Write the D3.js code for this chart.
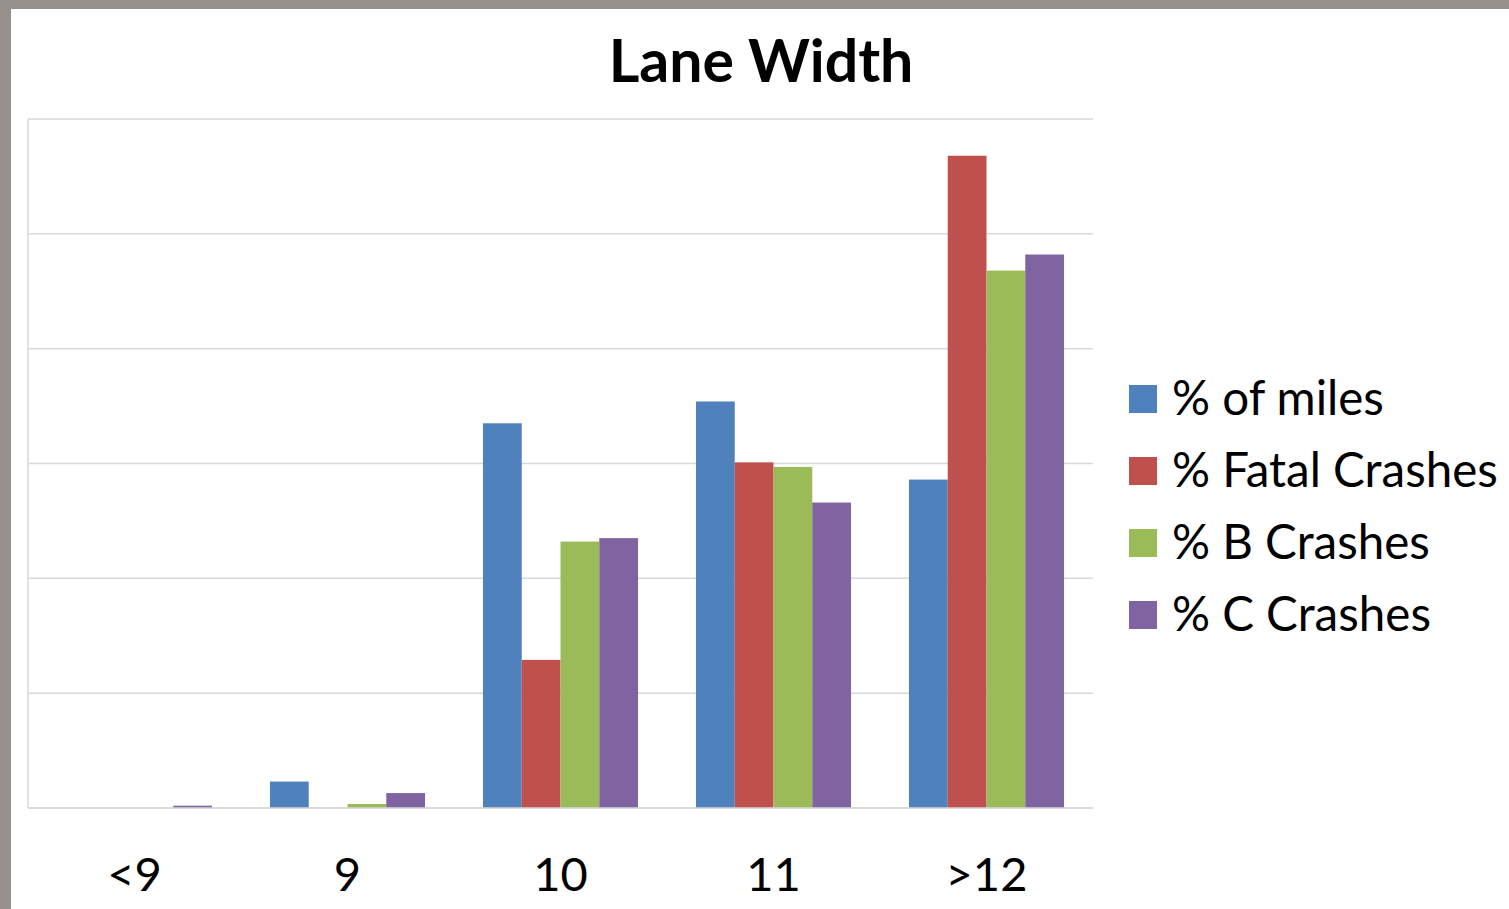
<!DOCTYPE html>
<html lang="en">
<head>
  <meta charset="UTF-8">
  <title>Lane Width</title>
  <script src="https://d3js.org/d3.v7.min.js"></script>
  <style>
    body { margin: 0; background: #96918c; }
    svg { display: block; }
  </style>
</head>
<body>
  <div id="chart"></div>

  <script>
    // Data
    const categories = ["<9", "9", "10", "11", ">12"];
    const seriesNames = ["% of miles", "% Fatal Crashes", "% B Crashes", "% C Crashes"];
    const seriesColors = ["#4f81bd", "#c0504d", "#9bbb59", "#8064a2"];
    const milesPct = [0, 2.3, 33.5, 35.4, 28.6];
    const fatalPct = [0, 0, 12.9, 30.1, 56.8];
    const bCrashPct = [0, 0.35, 23.2, 29.7, 46.8];
    const cCrashPct = [0.2, 1.3, 23.5, 26.6, 48.2];
    const yTicks = [0, 10, 20, 30, 40, 50, 60];

    const series = [milesPct, fatalPct, bCrashPct, cCrashPct];
    const rows = categories.map((c, i) => ({
      cat: c,
      values: series.map((s, j) => ({ key: seriesNames[j], value: s[i], color: seriesColors[j] }))
    }));

    const width = 1509, height = 909;
    const plot = { left: 28, right: 1093, top: 119, bottom: 808 };
    const font = "Lato, 'Open Sans', sans-serif";

    const svg = d3.select("#chart").append("svg")
      .attr("width", width)
      .attr("height", height);

    // card background
    svg.append("rect")
      .attr("x", 11).attr("y", 9)
      .attr("width", width - 11).attr("height", height - 9)
      .style("fill", "#fff");

    const x = d3.scaleBand()
      .domain(categories)
      .range([plot.left, plot.right])
      .paddingInner(0.272)
      .paddingOuter(0.136);

    const xInner = d3.scaleBand()
      .domain(seriesNames)
      .range([0, x.bandwidth()])
      .padding(0);

    const y = d3.scaleLinear()
      .domain([0, 60])
      .range([plot.bottom, plot.top]);

    // gridlines
    svg.append("g")
      .selectAll("line")
      .data(yTicks)
      .enter()
      .append("line")
      .attr("x1", plot.left)
      .attr("x2", plot.right)
      .attr("y1", d => y(d))
      .attr("y2", d => y(d))
      .style("stroke", "#d9d9d9")
      .style("stroke-width", 1.5);

    // left axis line
    svg.append("line")
      .attr("x1", plot.left).attr("x2", plot.left)
      .attr("y1", plot.top).attr("y2", plot.bottom)
      .style("stroke", "#d9d9d9")
      .style("stroke-width", 1.5);

    // bars
    svg.append("g")
      .selectAll("g")
      .data(rows)
      .enter()
      .append("g")
      .attr("transform", d => `translate(${x(d.cat)},0)`)
      .selectAll("rect")
      .data(d => d.values)
      .enter()
      .append("rect")
      .attr("x", d => xInner(d.key))
      .attr("width", xInner.bandwidth())
      .attr("y", d => y(d.value))
      .attr("height", d => y(0) - y(d.value))
      .style("fill", d => d.color);

    // baseline on top of bars
    svg.append("line")
      .attr("x1", plot.left).attr("x2", plot.right)
      .attr("y1", y(0)).attr("y2", y(0))
      .style("stroke", "#d9d9d9")
      .style("stroke-width", 1.5);

    // category labels
    svg.append("g")
      .selectAll("text")
      .data(categories)
      .enter()
      .append("text")
      .attr("x", d => x(d) + x.bandwidth() / 2)
      .attr("y", 891)
      .attr("text-anchor", "middle")
      .style("font-family", font)
      .style("font-size", "47px")
      .style("fill", "#000")
      .text(d => d);

    // title
    svg.append("text")
      .attr("x", 761)
      .attr("y", 82)
      .attr("text-anchor", "middle")
      .style("font-family", font)
      .style("font-weight", "bold")
      .style("font-size", "59px")
      .style("fill", "#000")
      .text("Lane Width");

    // legend
    const legend = svg.append("g")
      .selectAll("g")
      .data(seriesNames)
      .enter()
      .append("g")
      .attr("transform", (d, i) => `translate(1129,${399 + i * 72})`);

    legend.append("rect")
      .attr("x", 0)
      .attr("y", -14)
      .attr("width", 28)
      .attr("height", 28)
      .style("fill", (d, i) => seriesColors[i]);

    legend.append("text")
      .attr("x", 43)
      .attr("y", 16)
      .style("font-family", font)
      .style("font-size", "47.5px")
      .style("fill", "#000")
      .text(d => d);
  </script>
</body>
</html>
